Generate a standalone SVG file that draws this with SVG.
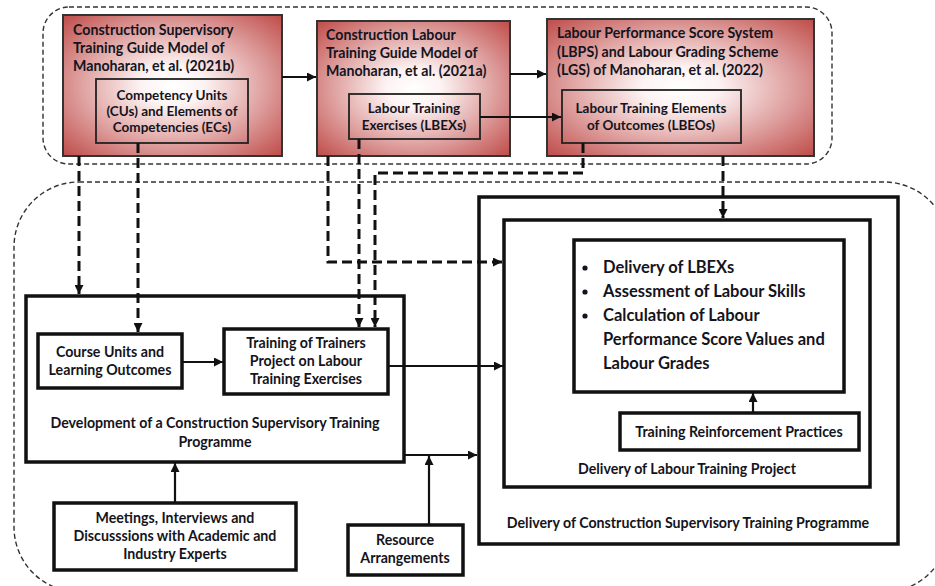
<svg xmlns="http://www.w3.org/2000/svg" width="935" height="586" viewBox="0 0 935 586">
  <defs>
    <style>
      text { font-family: "Lato", "Liberation Sans", sans-serif; font-weight: 700; fill: #141420; }
      .t13 { font-size: 14.2px; }
      .t12 { font-size: 13.5px; }
      .t15 { font-size: 16.5px; }
      .mid { text-anchor: middle; }
      .src { fill: url(#redGlow); stroke: #333; stroke-width: 2; }
      .sub { fill: none; stroke: #222; stroke-width: 1.8; }
      .box { fill: #fff; stroke: #111; stroke-width: 3.5; }
      .frame { fill: none; stroke: #333; stroke-width: 1.4; stroke-dasharray: 5 3; }
      .solid { fill: none; stroke: #111; stroke-width: 2.2; }
      .dash { fill: none; stroke: #111; stroke-width: 3; stroke-dasharray: 10 5; }
    </style>
    <radialGradient id="redGlow" cx="50%" cy="50%" r="72%">
      <stop offset="0" stop-color="#ffffff"/>
      <stop offset="0.2" stop-color="#fdf3f3"/>
      <stop offset="1" stop-color="#bd4744"/>
    </radialGradient>
    <marker id="arr" viewBox="0 0 10 10" refX="10" refY="5" markerWidth="9" markerHeight="9" markerUnits="userSpaceOnUse" orient="auto">
      <path d="M0,0 L10,5 L0,10 Z" fill="#111"/>
    </marker>
  </defs>

  <!-- dashed grouping frames -->
  <rect class="frame" x="43" y="7" width="789" height="157" rx="26"/>
  <rect class="frame" x="14" y="182" width="935" height="410" rx="65"/>

  <!-- source models -->
  <g id="supervisory-guide">
    <rect class="src" x="63" y="15" width="219" height="141"/>
    <text class="t13" x="73" y="35">Construction Supervisory</text>
    <text class="t13" x="73" y="53">Training Guide Model of</text>
    <text class="t13" x="73" y="71">Manoharan, et al. (2021b)</text>
    <rect class="sub" x="96" y="79" width="152" height="64"/>
    <text class="t12 mid" x="172" y="100">Competency Units</text>
    <text class="t12 mid" x="172" y="116">(CUs) and Elements of</text>
    <text class="t12 mid" x="172" y="132">Competencies (ECs)</text>
  </g>

  <g id="labour-guide">
    <rect class="src" x="317" y="21" width="193" height="135"/>
    <text class="t13" x="326" y="40">Construction Labour</text>
    <text class="t13" x="326" y="58">Training Guide Model of</text>
    <text class="t13" x="326" y="76">Manoharan, et al. (2021a)</text>
    <rect class="sub" x="349" y="94" width="131" height="45"/>
    <text class="t12 mid" x="414" y="113">Labour Training</text>
    <text class="t12 mid" x="414" y="130">Exercises (LBEXs)</text>
  </g>

  <g id="lbps-lgs">
    <rect class="src" x="547" y="19" width="267" height="137"/>
    <text class="t13" x="557" y="38">Labour Performance Score System</text>
    <text class="t13" x="557" y="57">(LBPS) and Labour Grading Scheme</text>
    <text class="t13" x="557" y="75">(LGS) of Manoharan, et al. (2022)</text>
    <rect class="sub" x="562" y="90" width="179" height="53"/>
    <text class="t12 mid" x="651" y="113">Labour Training Elements</text>
    <text class="t12 mid" x="651" y="130">of Outcomes (LBEOs)</text>
  </g>

  <!-- programme development -->
  <g id="development">
    <rect class="box" x="26" y="296" width="378" height="166"/>
    <text class="t13 mid" x="215" y="428">Development of a Construction Supervisory Training</text>
    <text class="t13 mid" x="215" y="447">Programme</text>
  </g>

  <g id="course-units">
    <rect class="box" x="38" y="334" width="144" height="54" stroke-width="3"/>
    <text class="t13 mid" x="110" y="357">Course Units and</text>
    <text class="t13 mid" x="110" y="375">Learning Outcomes</text>
  </g>

  <g id="trainers-project">
    <rect class="box" x="224" y="329" width="164" height="65" stroke-width="3"/>
    <text class="t13 mid" x="306" y="348">Training of Trainers</text>
    <text class="t13 mid" x="306" y="366">Project on Labour</text>
    <text class="t13 mid" x="306" y="384">Training Exercises</text>
  </g>

  <g id="meetings">
    <rect class="box" x="54" y="503" width="242" height="67" stroke-width="3"/>
    <text class="t13 mid" x="175" y="523">Meetings, Interviews and</text>
    <text class="t13 mid" x="175" y="541">Discusssions with Academic and</text>
    <text class="t13 mid" x="175" y="559">Industry Experts</text>
  </g>

  <g id="resources">
    <rect class="box" x="348" y="525" width="115" height="50" stroke-width="3"/>
    <text class="t13 mid" x="405" y="545">Resource</text>
    <text class="t13 mid" x="405" y="563">Arrangements</text>
  </g>

  <!-- programme delivery -->
  <g id="programme-delivery">
    <rect class="box" x="479" y="197" width="419" height="347" stroke-width="4"/>
    <text class="t13 mid" x="688" y="528">Delivery of Construction Supervisory Training Programme</text>
  </g>

  <g id="project-delivery">
    <rect class="box" x="504" y="220" width="366" height="267"/>
    <text class="t13 mid" x="687" y="474">Delivery of Labour Training Project</text>
  </g>

  <g id="project-activities">
    <rect class="box" x="574" y="240" width="270" height="152"/>
    <circle cx="585" cy="268" r="2.6" fill="#141420"/>
    <circle cx="585" cy="292" r="2.6" fill="#141420"/>
    <circle cx="585" cy="316" r="2.6" fill="#141420"/>
    <text class="t15" x="603" y="273">Delivery of LBEXs</text>
    <text class="t15" x="603" y="297">Assessment of Labour Skills</text>
    <text class="t15" x="603" y="321">Calculation of Labour</text>
    <text class="t15" x="603" y="345">Performance Score Values and</text>
    <text class="t15" x="603" y="369">Labour Grades</text>
  </g>

  <g id="reinforcement">
    <rect class="box" x="620" y="413" width="239" height="37" stroke-width="3"/>
    <text class="t13 mid" x="739" y="437">Training Reinforcement Practices</text>
  </g>

  <!-- connectors -->
  <g id="connectors">
    <path class="solid" d="M282,77 H316" marker-end="url(#arr)"/>
    <path class="solid" d="M510,74 H546" marker-end="url(#arr)"/>
    <path class="solid" d="M480,117 H561" marker-end="url(#arr)"/>
    <path class="solid" d="M182,362 H223" marker-end="url(#arr)"/>
    <path class="solid" d="M388,366 H503" marker-end="url(#arr)"/>
    <path class="solid" d="M404,455 H477" marker-end="url(#arr)"/>
    <path class="solid" d="M429,525 V456" marker-end="url(#arr)"/>
    <path class="solid" d="M175,503 V463" marker-end="url(#arr)"/>
    <path class="solid" d="M753,413 V393" marker-end="url(#arr)"/>

    <path class="dash" d="M79,156 V294" marker-end="url(#arr)"/>
    <path class="dash" d="M138,143 V332" marker-end="url(#arr)"/>
    <path class="dash" d="M328,156 V262 H502" marker-end="url(#arr)"/>
    <path class="dash" d="M359,139 V327" marker-end="url(#arr)"/>
    <path class="dash" d="M583,143 V173 H375 V327" marker-end="url(#arr)"/>
    <path class="dash" d="M723,156 V218" marker-end="url(#arr)"/>
  </g>
</svg>
